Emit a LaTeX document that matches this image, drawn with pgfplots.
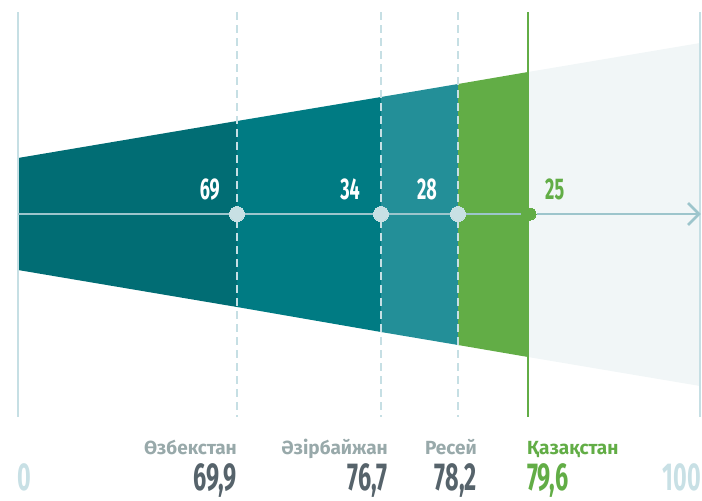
\documentclass[border=0pt]{standalone}
\usepackage{pgfplots}
\pgfplotsset{compat=1.18}
\usepackage{fontspec}
\setmainfont{Fira Sans}
\newfontfamily\numfont[FakeStretch=0.6]{Fira Sans}

\definecolor{segA}{HTML}{016D74}
\definecolor{segB}{HTML}{007B83}
\definecolor{segC}{HTML}{238F98}
\definecolor{kzgreen}{HTML}{62AD46}
\definecolor{rest}{HTML}{F1F6F7}
\definecolor{lineblue}{HTML}{C6DFE4}
\definecolor{axisblue}{HTML}{9DC5CC}
\definecolor{dotblue}{HTML}{C8E0E4}
\definecolor{namegray}{HTML}{98A9AA}
\definecolor{valgray}{HTML}{56636B}
\definecolor{zeroblue}{HTML}{C8E0E5}

\newcommand{\topnum}{\numfont\bfseries\fontsize{30}{30}\selectfont}
\newcommand{\botnum}{\numfont\bfseries\fontsize{39}{39}\selectfont}
\newcommand{\cname}{\bfseries\fontsize{19}{19}\selectfont}

\begin{document}
\begin{tikzpicture}
\begin{axis}[
  scale only axis, width=702pt, height=501pt,
  xmin=0, xmax=702, ymin=0, ymax=501,
  y dir=reverse, hide axis, clip=false,
]
\draw[draw=none] (rel axis cs:0,0) rectangle (rel axis cs:1,1);

% band, one piece per country (x in drawing units, not in value)
\addplot[fill=segA, draw=none] coordinates {(18,158) (237,121) (237,307) (18,270)} -- cycle;
\addplot[fill=segB, draw=none] coordinates {(237,121) (381,97) (381,332) (237,307)} -- cycle;
\addplot[fill=segC, draw=none] coordinates {(381,97) (458,84) (458,345) (381,332)} -- cycle;
\addplot[fill=kzgreen, draw=none] coordinates {(458,84) (528,72) (528,357) (458,345)} -- cycle;
\addplot[fill=rest, draw=none] coordinates {(528,72) (700,43) (700,386) (528,357)} -- cycle;

% vertical guides
\addplot[lineblue, line width=2pt] coordinates {(18,12) (18,417)};
\addplot[lineblue, line width=2pt] coordinates {(700,12) (700,417)};
\addplot[lineblue, line width=2pt, dash pattern=on 8pt off 5pt] coordinates {(237,12) (237,417)};
\addplot[lineblue, line width=2pt, dash pattern=on 8pt off 5pt] coordinates {(381,12) (381,417)};
\addplot[lineblue, line width=2pt, dash pattern=on 8pt off 5pt] coordinates {(458,12) (458,417)};
\addplot[kzgreen, line width=2pt] coordinates {(528,12) (528,417)};

% horizontal arrow
\addplot[axisblue, line width=2.5pt] coordinates {(18,214) (521,214)};
\addplot[axisblue, line width=2.5pt] coordinates {(537,214) (698,214)};
\addplot[axisblue, line width=2.5pt] coordinates {(688,203) (699,214) (688,225)};

% points
\addplot[dotblue, only marks, mark=*, mark size=7.5pt, mark options={fill=dotblue, draw=dotblue, line width=0pt}]
  coordinates {(237,214) (381,214) (458,214)};
\addplot[kzgreen, only marks, mark=*, mark size=6pt, mark options={fill=kzgreen, draw=kzgreen, line width=0pt}]
  coordinates {(530,214)};

% counts above the line
\node[anchor=base east, white, inner sep=0pt] at (axis cs:220,199) {\topnum 69};
\node[anchor=base east, white, inner sep=0pt] at (axis cs:360,199) {\topnum 34};
\node[anchor=base east, white, inner sep=0pt] at (axis cs:437,199) {\topnum 28};
\node[anchor=base west, kzgreen, inner sep=0pt] at (axis cs:545,199) {\topnum 25};

% country names
\node[anchor=base east, namegray, inner sep=0pt] at (axis cs:237,454) {\cname Өзбекстан};
\node[anchor=base east, namegray, inner sep=0pt] at (axis cs:388,454) {\cname Әзірбайжан};
\node[anchor=base east, namegray, inner sep=0pt] at (axis cs:477,454) {\cname Ресей};
\node[anchor=base west, kzgreen, inner sep=0pt] at (axis cs:527,454) {\cname Қазақстан};

% values
\node[anchor=base west, zeroblue, inner sep=0pt] at (axis cs:17,490) {\botnum 0};
\node[anchor=base east, valgray, inner sep=0pt] at (axis cs:237,490) {\botnum 69,9};
\node[anchor=base east, valgray, inner sep=0pt] at (axis cs:388,490) {\botnum 76,7};
\node[anchor=base east, valgray, inner sep=0pt] at (axis cs:477,490) {\botnum 78,2};
\node[anchor=base west, kzgreen, inner sep=0pt] at (axis cs:527,490) {\botnum 79,6};
\node[anchor=base east, zeroblue, inner sep=0pt] at (axis cs:701,490) {\botnum 100};
\end{axis}
\end{tikzpicture}
\end{document}
